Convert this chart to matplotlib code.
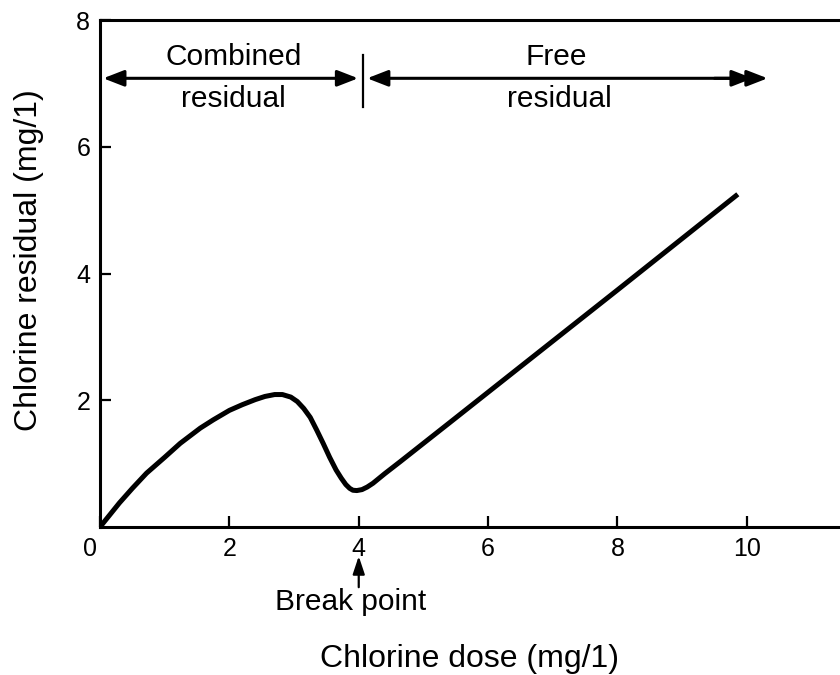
import matplotlib
matplotlib.use("Agg")
import matplotlib.pyplot as plt
import matplotlib.transforms as mtransforms

plt.rcParams["font.family"] = ["Liberation Sans", "DejaVu Sans"]

# breakpoint chlorination curve
dose = [0, 0.15, 0.3, 0.5, 0.72, 1.0, 1.24, 1.55, 1.75, 2.0, 2.2, 2.4, 2.55, 2.7,
        2.82, 2.95, 3.05, 3.15, 3.25, 3.35, 3.45, 3.55, 3.65, 3.73, 3.8, 3.86,
        3.91, 3.97, 4.05, 4.13, 4.22, 4.4, 4.64, 5.0, 5.41, 6.5, 8.0, 9.86]
residual = [0, 0.19, 0.38, 0.61, 0.85, 1.1, 1.32, 1.56, 1.69, 1.84, 1.93, 2.01, 2.06, 2.09,
            2.09, 2.05, 1.98, 1.87, 1.73, 1.53, 1.32, 1.1, 0.9, 0.77, 0.67, 0.61,
            0.58, 0.575, 0.59, 0.63, 0.69, 0.84, 1.03, 1.32, 1.65, 2.53, 3.74, 5.25]

xticks = [0, 2, 4, 6, 8, 10]
yticks = [2, 4, 6, 8]
break_dose = 4.0
zone_split = 4.07

fig = plt.figure(figsize=(8.4, 6.75), dpi=100)
ax = fig.add_axes([100 / 840, 1 - 527 / 675, 740 / 840, 507 / 675])

ax.plot(dose, residual, color="black", lw=3.6, solid_joinstyle="round",
        solid_capstyle="butt")

ax.set_xlim(0, 11.44)
ax.set_ylim(0, 8)
ax.set_xticks(xticks)
ax.set_yticks(yticks)
ax.tick_params(direction="in", length=8, width=1.6, labelsize=18, pad=7)
for s in ["left", "bottom", "top"]:
    ax.spines[s].set_linewidth(2.2)
ax.spines["right"].set_visible(False)

# nudge the "0" label left like the reference
lbl0 = ax.get_xticklabels()[0]
lbl0.set_transform(lbl0.get_transform() +
                   mtransforms.ScaledTranslation(-10 / 100, 0, fig.dpi_scale_trans))

ax.set_xlabel("Chlorine dose (mg/1)", fontsize=23, labelpad=60)
ax.set_ylabel("Chlorine residual (mg/1)", fontsize=23)
ax.yaxis.set_label_coords(-0.076, 0.526)

# zone arrows
arrow_y = 7.08
style = dict(arrowstyle="<|-|>,head_length=0.9,head_width=0.35", color="black",
             lw=2.2, mutation_scale=14, shrinkA=0, shrinkB=0)
ax.annotate("", xy=(0.05, arrow_y), xytext=(3.99, arrow_y), arrowprops=style)
ax.annotate("", xy=(4.13, arrow_y), xytext=(10.32, arrow_y), arrowprops=style)
ax.annotate("", xy=(10.09, arrow_y), xytext=(9.5, arrow_y),
            arrowprops=dict(style, arrowstyle="-|>,head_length=0.9,head_width=0.35"))
ax.plot([zone_split, zone_split], [6.62, 7.44], color="black", lw=1.6)

ax.text(2.06, 7.42, "Combined", fontsize=21.5, ha="center", va="center")
ax.text(2.06, 6.76, "residual", fontsize=21.5, ha="center", va="center")
ax.text(7.06, 7.42, "Free", fontsize=21.5, ha="center", va="center")
ax.text(7.1, 6.76, "residual", fontsize=21.5, ha="center", va="center")

# break point marker below the axis
ax.annotate("", xy=(break_dose, -0.46), xytext=(break_dose, -0.95),
            arrowprops=dict(arrowstyle="-|>,head_length=0.9,head_width=0.3",
                            color="black", lw=1.6, mutation_scale=12,
                            shrinkA=0, shrinkB=0),
            annotation_clip=False)
ax.text(3.88, -1.18, "Break point", fontsize=21.5, ha="center", va="center",
        clip_on=False)

fig.savefig("out.png", dpi=100)
